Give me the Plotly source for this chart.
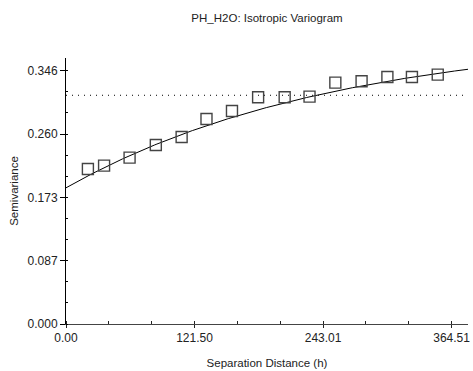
import numpy as np
import plotly.graph_objects as go

lag_distance = [20.7, 36.0, 60.1, 84.9, 109.3, 132.8, 156.9, 181.6, 206.7, 230.2,
                254.6, 279.4, 303.8, 327.0, 351.4]
semivariance = [0.2117, 0.2163, 0.2272, 0.2445, 0.2555, 0.2800, 0.2910, 0.3097,
                0.3097, 0.3105, 0.3296, 0.3316, 0.3374, 0.3374, 0.3406]

# Fitted exponential model parameters
nugget = 0.186
partial_sill = 0.209
model_range = 765.0
sample_variance = 0.3124

x_max = 380.0
y_max = 0.3633
x_tick_step = 121.503 / 3
y_tick_step = 0.346 / 12
x_label_vals = [0.0, 121.50, 243.01, 364.51]
x_label_text = ["0.00", "121.50", "243.01", "364.51"]
y_label_text = ["0.000", "0.087", "0.173", "0.260", "0.346"]

h = np.linspace(0, x_max, 300)
gamma = nugget + partial_sill * (1 - np.exp(-3 * h / model_range))

fig = go.Figure()
fig.add_trace(go.Scatter(x=[0, x_max], y=[sample_variance, sample_variance], mode="lines",
                         line=dict(color="black", width=1, dash="1px,5px"), hoverinfo="skip"))
fig.add_trace(go.Scatter(x=h, y=gamma, mode="lines", line=dict(color="black", width=1)))
fig.add_trace(go.Scatter(x=lag_distance, y=semivariance, mode="markers",
                         marker=dict(symbol="square-open", size=11,
                                     line=dict(color="#444444", width=1.4), color="#444444")))

xt = [i * x_tick_step for i in range(10)]
xtt = []
for i in range(10):
    xtt.append(x_label_text[i // 3] if i % 3 == 0 else "")
yt = [i * y_tick_step for i in range(13)]
ytt = [y_label_text[i // 3] if i % 3 == 0 else "" for i in range(13)]

font = dict(family="Liberation Sans, Arial, sans-serif", size=12, color="#222222")

fig.update_layout(
    width=473, height=371,
    margin=dict(l=66, r=3, t=58, b=47),
    paper_bgcolor="white", plot_bgcolor="white",
    showlegend=False,
    font=font,
    title=dict(text="PH_H2O: Isotropic Variogram", x=0.5, xref="paper", y=1 - 18 / 371,
               yanchor="middle", font=dict(size=11.5, color="#222222")),
    xaxis=dict(range=[0, x_max], showgrid=False, zeroline=False,
               showline=True, linecolor="#444444", linewidth=1,
               tickmode="array", tickvals=xt, ticktext=xtt,
               ticks="outside", ticklen=3, tickcolor="#222222", tickwidth=1,
               minor=dict(ticks="inside", tickmode="array", tickvals=xt, ticklen=3,
                          tickcolor="#222222"),
               tickfont=dict(size=12),
               title=dict(text="Separation Distance (h)", font=dict(size=11.5), standoff=14)),
    yaxis=dict(range=[0, y_max], showgrid=False, zeroline=False,
               showline=True, linecolor="black", linewidth=1,
               tickmode="array", tickvals=yt, ticktext=ytt,
               ticks="outside", ticklen=5, tickcolor="black", tickwidth=1,
               minor=dict(ticks="inside", tickmode="array", tickvals=yt, ticklen=2,
                          tickcolor="black"),
               tickfont=dict(size=12),
               title=dict(text="Semivariance", font=dict(size=11.5), standoff=6)),
)

fig.write_html("out.html")
